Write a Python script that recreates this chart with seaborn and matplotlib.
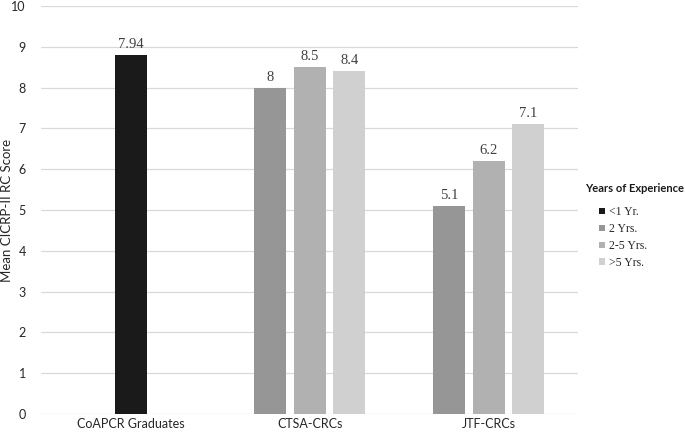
import pandas as pd
import seaborn as sns
import matplotlib.pyplot as plt

categories = ["CoAPCR Graduates", "CTSA-CRCs", "JTF-CRCs"]
levels = ["<1 Yr.", "2 Yrs.", "2-5 Yrs.", ">5 Yrs."]
colors = ["#1a1a1a", "#969696", "#b1b1b1", "#d0d0d0"]

# bars per group: (level, height as drawn, printed label)
coapcr_levels = ["<1 Yr."]
coapcr_scores = [8.8]
coapcr_labels = ["7.94"]

ctsa_levels = ["2 Yrs.", "2-5 Yrs.", ">5 Yrs."]
ctsa_scores = [8.0, 8.5, 8.4]
ctsa_labels = ["8", "8.5", "8.4"]

jtf_levels = ["2 Yrs.", "2-5 Yrs.", ">5 Yrs."]
jtf_scores = [5.1, 6.2, 7.1]
jtf_labels = ["5.1", "6.2", "7.1"]

step = 0.222


def build_df():
    rows = []
    groups = [(coapcr_levels, coapcr_scores, coapcr_labels),
              (ctsa_levels, ctsa_scores, ctsa_labels),
              (jtf_levels, jtf_scores, jtf_labels)]
    for i, (lv, sc, lb) in enumerate(groups):
        n = len(lv)
        for j in range(n):
            rows.append({"group": categories[i], "pos": round(i + (j - (n - 1) / 2) * step, 3),
                         "exp": lv[j], "score": sc[j], "label": lb[j]})
    return pd.DataFrame(rows)


def main():
    df = build_df()
    sns.set_style("white")
    plt.rcParams['font.family'] = ['Lato', 'DejaVu Sans']

    fig = plt.figure(figsize=(6.85, 4.36), dpi=100)
    ax = fig.add_axes([0.060, 0.0505, 0.784, 0.9355])

    sns.barplot(data=df, x="pos", y="score", hue="exp", hue_order=levels,
                palette=colors, native_scale=True, dodge=False, width=0.8,
                errorbar=None, linewidth=0, ax=ax)

    for cont, lv in zip(ax.containers, levels):
        sub = df[df["exp"] == lv].sort_values("pos")
        ax.bar_label(cont, labels=list(sub["label"]), padding=3,
                     fontsize=10.5, color="#404040", family="Liberation Serif")

    ax.set_xlim(-0.5, 2.5)
    ax.set_ylim(0, 10)
    ax.set_yticks(range(0, 11))
    ax.set_xticks([0, 1, 2])
    ax.set_xticklabels(categories)
    ax.tick_params(axis="x", length=0, labelsize=9, labelcolor="#262626", pad=3)
    ax.tick_params(axis="y", length=0, labelsize=9, labelcolor="#262626", pad=11)
    ax.set_xlabel("")
    ax.set_ylabel("Mean CICRP-II RC Score", fontsize=9.5, color="#262626")
    ax.yaxis.set_label_coords(-0.052, 0.5)
    ax.yaxis.grid(True, color="#d9d9d9", linewidth=0.9)
    ax.set_axisbelow(True)
    for s in ax.spines.values():
        s.set_visible(False)

    handles, labels = ax.get_legend_handles_labels()
    ax.get_legend().remove()
    fig.text(0.854, 0.568, "Years of Experience", fontsize=8, fontweight="bold",
             color="#1a1a1a", va="center", ha="left")
    leg = fig.legend(handles, labels, loc="upper left", bbox_to_anchor=(0.868, 0.538),
                     frameon=False, handlelength=0.5, handleheight=0.5,
                     handletextpad=0.35, labelspacing=0.42, borderaxespad=0,
                     prop={"family": "Liberation Serif", "size": 8.5})
    for t in leg.get_texts():
        t.set_color("#262626")

    fig.savefig("out.png", dpi=100)


if __name__ == "__main__":
    main()
